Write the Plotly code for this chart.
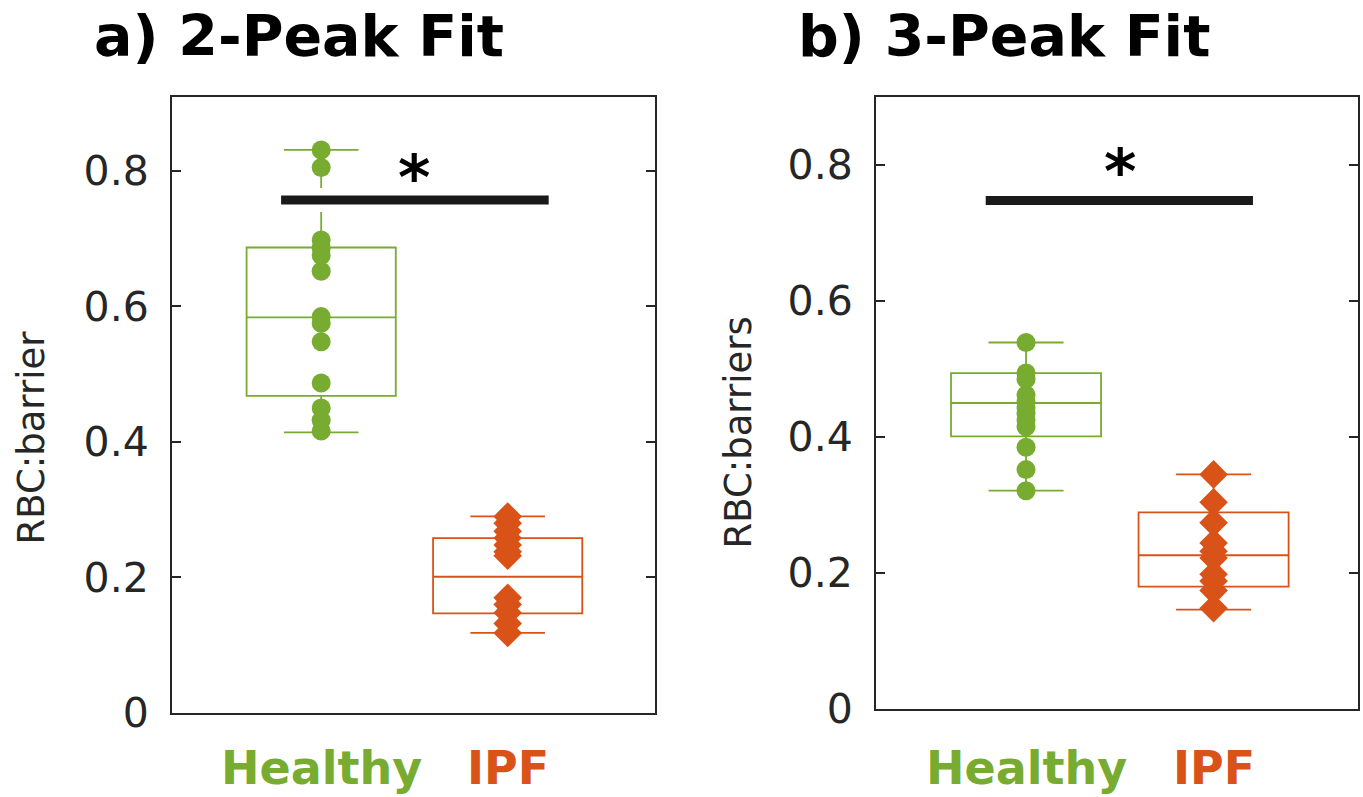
import plotly.graph_objects as go

# ---------------- data ----------------
categories = ["Healthy", "IPF"]
cat_pos = [1, 2]

# Panel a) 2-Peak Fit : individual values
a_healthy = [0.831, 0.805, 0.698, 0.686, 0.675, 0.652, 0.585, 0.575, 0.548, 0.487, 0.450, 0.432, 0.416]
a_ipf = [0.290, 0.280, 0.268, 0.258, 0.248, 0.238, 0.232, 0.170, 0.160, 0.148, 0.132, 0.118]
# box statistics [lower whisker, q1, median, q3, upper whisker]
a_healthy_stats = [0.414, 0.468, 0.584, 0.687, 0.831]
a_ipf_stats = [0.118, 0.147, 0.201, 0.258, 0.290]

# Panel b) 3-Peak Fit
b_healthy = [0.539, 0.494, 0.485, 0.462, 0.452, 0.443, 0.435, 0.425, 0.415, 0.385, 0.352, 0.321]
b_ipf = [0.345, 0.304, 0.274, 0.244, 0.232, 0.222, 0.198, 0.188, 0.174, 0.148]
b_healthy_stats = [0.321, 0.401, 0.450, 0.494, 0.539]
b_ipf_stats = [0.146, 0.180, 0.226, 0.289, 0.345]

# significance bars: [x start, x end, y] and asterisk height
a_sig = [0.785, 2.22, 0.757]
b_sig = [0.785, 2.21, 0.748]
star_y = 0.79

titles = ["a) 2-Peak Fit", "b) 3-Peak Fit"]
ylabels = ["RBC:barrier", "RBC:barriers"]
yticks = [0, 0.2, 0.4, 0.6, 0.8]
ytick_text = ["0", "0.2", "0.4", "0.6", "0.8"]

GREEN = "#77AC30"
ORANGE = "#D95319"
AX = "#262626"
FONT = "DejaVu Sans"

fig = go.Figure()


def add_panel(xa, ya, healthy, ipf, hstats, istats, sig):
    for pos, st, col in [(1, hstats, GREEN), (2, istats, ORANGE)]:
        fig.add_trace(go.Box(
            x=[pos], lowerfence=[st[0]], q1=[st[1]], median=[st[2]], q3=[st[3]], upperfence=[st[4]],
            width=0.8, whiskerwidth=0.5, line=dict(color=col, width=1.8),
            fillcolor="rgba(0,0,0,0)", boxpoints=False, showlegend=False,
            xaxis=xa, yaxis=ya, hoverinfo="skip"))
    fig.add_trace(go.Scatter(x=[1] * len(healthy), y=healthy, mode="markers",
                             marker=dict(symbol="circle", size=19, color=GREEN),
                             showlegend=False, xaxis=xa, yaxis=ya))
    fig.add_trace(go.Scatter(x=[2] * len(ipf), y=ipf, mode="markers",
                             marker=dict(symbol="diamond", size=22, color=ORANGE),
                             showlegend=False, xaxis=xa, yaxis=ya))
    fig.add_trace(go.Scatter(x=[sig[0], sig[1]], y=[sig[2], sig[2]], mode="lines",
                             line=dict(color="white", width=24), showlegend=False,
                             xaxis=xa, yaxis=ya, hoverinfo="skip"))
    fig.add_trace(go.Scatter(x=[sig[0], sig[1]], y=[sig[2], sig[2]], mode="lines",
                             line=dict(color="#1a1a1a", width=9), showlegend=False,
                             xaxis=xa, yaxis=ya, hoverinfo="skip"))


add_panel("x", "y", a_healthy, a_ipf, a_healthy_stats, a_ipf_stats, a_sig)
add_panel("x2", "y2", b_healthy, b_ipf, b_healthy_stats, b_ipf_stats, b_sig)

W, H = 1363, 797

xcommon = dict(showline=True, linecolor=AX, linewidth=2, mirror=True, ticks="",
               showticklabels=False, showgrid=False, zeroline=False)
ycommon = dict(showline=True, linecolor=AX, linewidth=2, mirror="ticks", ticks="inside",
               ticklen=9, tickwidth=2, tickcolor=AX, tickvals=yticks, ticktext=ytick_text,
               tickfont=dict(family=FONT, size=41, color=AX), showgrid=False, zeroline=False,
               ticklabelstandoff=13)

fig.update_layout(
    width=W, height=822, margin=dict(l=0, r=0, t=0, b=0),
    paper_bgcolor="white", plot_bgcolor="white",
    xaxis=dict(domain=[172 / W, 655 / W], range=[0.2, 2.79], anchor="y", **xcommon),
    yaxis=dict(domain=[1 - 712 / H, 1 - 97 / H], range=[0, 0.909], anchor="x", **ycommon),
    xaxis2=dict(domain=[876 / W, 1358 / W], range=[0.2, 2.77], anchor="y2", **xcommon),
    yaxis2=dict(domain=[1 - 708 / H, 1 - 97 / H], range=[0, 0.9], anchor="x2", **ycommon),
    showlegend=False,
)

annotations = []
# titles
for txt, xc in zip(titles, [299 / W, 1003.5 / W]):
    annotations.append(dict(text=f"<b>{txt}</b>", x=xc, y=1 - 36 / H, xref="paper", yref="paper",
                            xanchor="center", yanchor="middle", showarrow=False,
                            font=dict(family=FONT, size=57, color="black")))
# y labels
for txt, xc, yc in zip(ylabels, [32 / W, 739 / W], [437 / H, 432 / H]):
    annotations.append(dict(text=txt, x=xc, y=1 - yc, xref="paper", yref="paper",
                            xanchor="center", yanchor="middle", textangle=-90, showarrow=False,
                            font=dict(family=FONT, size=37, color=AX)))
# category labels
for xa, ya in [("x", "y"), ("x2", "y2")]:
    for cat, pos, col in zip(categories, cat_pos, [GREEN, ORANGE]):
        annotations.append(dict(text=f"<b>{cat}</b>", x=pos, y=1 - 767 / H, xref=xa, yref="paper",
                                xanchor="center", yanchor="middle", showarrow=False,
                                font=dict(family=FONT, size=46, color=col)))
    # asterisk
    annotations.append(dict(text="<b>*</b>", x=1.5, y=star_y, xref=xa, yref=ya,
                            xanchor="center", yanchor="middle", showarrow=False,
                            font=dict(family=FONT, size=62, color="black")))

fig.update_layout(annotations=annotations)
fig.write_html("out.html")
